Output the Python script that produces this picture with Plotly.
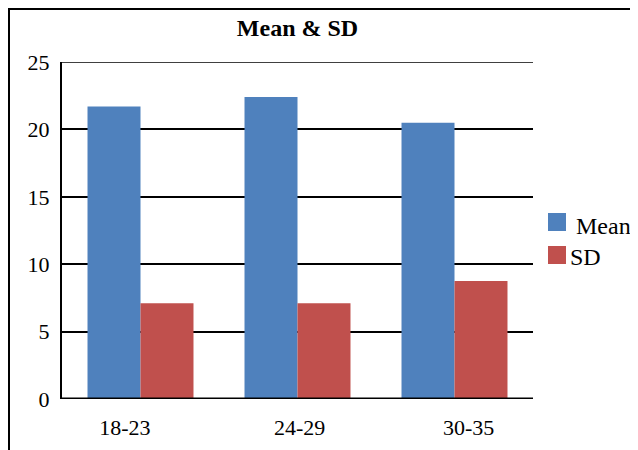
import plotly.graph_objects as go

categories = ["18-23", "24-29", "30-35"]
mean_values = [21.7, 22.4, 20.5]
sd_values = [7.1, 7.1, 8.75]
y_ticks = [0, 5, 10, 15, 20, 25]
series_names = ["Mean", "SD"]
series_colors = ["#4F81BD", "#C0504D"]

SERIF = "Liberation Serif"
OFF = 8  # page body margin offset

W, H = 638 - OFF, 450 - OFF
L, T = 62 - OFF, 62 - OFF
R = W - (533 - OFF)
B = H - (399 - OFF)
pw = W - L - R
ph = H - T - B

def px_x(page_x):
    return (page_x - OFF - L) / pw

def px_y(page_y):
    return (H - B - (page_y - OFF)) / ph

# category-label positions (the source spreads labels slightly wider than the bars)
label_nudge = [-0.1, 0.013, 0.09]
label_pos = [i + d for i, d in enumerate(label_nudge)]

fig = go.Figure()
for name, vals, col in zip(series_names, [mean_values, sd_values], series_colors):
    fig.add_trace(go.Bar(name=name, x=categories, y=vals, showlegend=False,
                         marker=dict(color=col, line=dict(width=0))))

fig.update_layout(
    width=W, height=H,
    margin=dict(l=L, r=R, t=T, b=B, pad=0, autoexpand=False),
    paper_bgcolor="white", plot_bgcolor="white",
    barmode="group", bargap=0.325, bargroupgap=0,
    font=dict(family=SERIF, size=22, color="black"),
    title=dict(text="<b>Mean &amp; SD</b>", x=(L + pw / 2) / W, xanchor="center",
               y=1 - (28 - OFF) / H, yanchor="middle", font=dict(family=SERIF, size=24, color="black")),
    xaxis=dict(showgrid=False, showline=False, ticks="", tickfont=dict(family=SERIF, size=22),
               tickmode="array", tickvals=label_pos, ticktext=categories,
               ticklabelstandoff=13, range=[-0.5, 2.5]),
    yaxis=dict(range=[0, 25], tickvals=y_ticks, showgrid=True, gridcolor="black", gridwidth=1.5,
               showline=True, linecolor="black", linewidth=2, ticks="", zeroline=False,
               tickfont=dict(family=SERIF, size=22), ticklabelstandoff=6),
    showlegend=False,
)

# top gridline at 25
fig.add_shape(type="line", xref="paper", yref="y", x0=0, x1=1, y0=25, y1=25,
              line=dict(color="black", width=1.5), layer="below")
# thick baseline at zero
fig.add_shape(type="line", xref="paper", yref="y", x0=0, x1=1, y0=0, y1=0,
              line=dict(color="black", width=3), layer="above")
# outer frame (top and left edges visible)
fig.add_shape(type="rect", xref="paper", yref="paper",
              x0=px_x(OFF + 1), x1=px_x(700), y0=px_y(520), y1=px_y(OFF + 1),
              line=dict(color="black", width=2), fillcolor="rgba(0,0,0,0)", layer="above")

# legend (manual, larger swatches)
legend_rows = [(213, 226, 574), (246, 257, 568)]
for (sq_top, txt_y, txt_x), name, col in zip(legend_rows, series_names, series_colors):
    fig.add_shape(type="rect", xref="paper", yref="paper",
                  x0=px_x(548), x1=px_x(566), y0=px_y(sq_top + 18), y1=px_y(sq_top),
                  line=dict(width=0), fillcolor=col, layer="above")
    fig.add_annotation(text=name, xref="paper", yref="paper", x=px_x(txt_x), y=px_y(txt_y),
                       xanchor="left", yanchor="middle", showarrow=False,
                       font=dict(family=SERIF, size=24, color="black"))

fig.write_html("out.html")
